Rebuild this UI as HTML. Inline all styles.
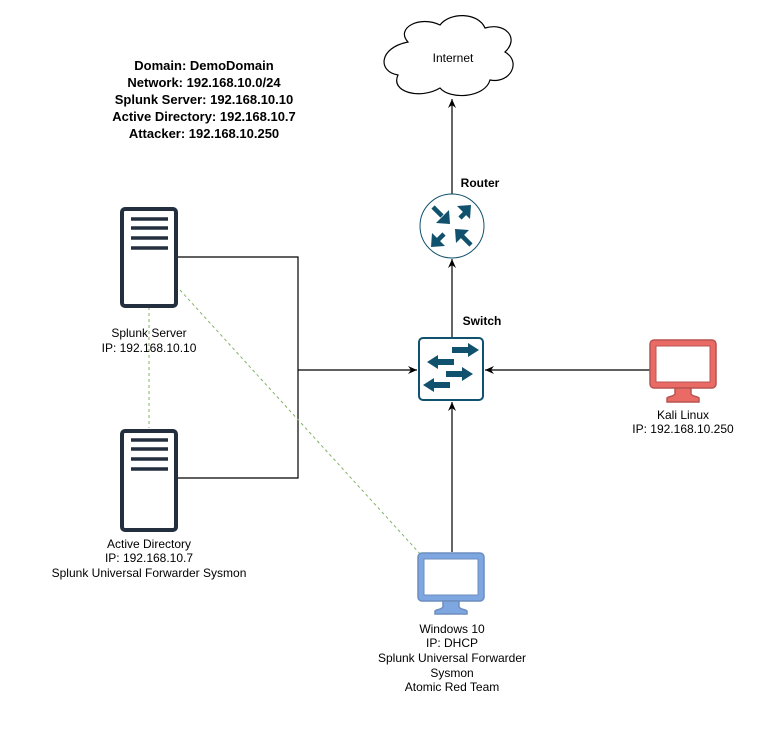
<!DOCTYPE html>
<html><head><meta charset="utf-8"><style>
html,body{margin:0;padding:0;background:#fff;}
svg{display:block;font-family:"Liberation Sans",Arial,sans-serif;}
</style></head><body>
<svg width="779" height="742" viewBox="0 0 779 742" xmlns="http://www.w3.org/2000/svg">
<defs>
<marker id="ar" markerWidth="10" markerHeight="10" refX="9" refY="5" orient="auto" markerUnits="userSpaceOnUse">
<path d="M0,1 L9,5 L0,9 L3,5 Z" fill="#000"/>
</marker>
</defs>
<g font-size="13" font-weight="bold" text-anchor="middle" fill="#000">
<text x="204" y="70">Domain: DemoDomain</text>
<text x="204" y="87">Network: 192.168.10.0/24</text>
<text x="204" y="104">Splunk Server: 192.168.10.10</text>
<text x="204" y="121">Active Directory: 192.168.10.7</text>
<text x="204" y="138">Attacker: 192.168.10.250</text>
</g>
<path d="M408,42 C395,28 420,15 440,25 C450,12 478,12 485,28 C505,22 520,38 505,52 C522,62 510,84 490,80 C485,98 450,100 440,88 C420,100 390,92 398,75 C378,72 378,48 408,42 Z" fill="#fff" stroke="#000" stroke-width="1.2"/>
<text x="453" y="62" font-size="12" text-anchor="middle">Internet</text>
<g stroke="#000" stroke-width="1.2" fill="none">
<line x1="452" y1="194" x2="452" y2="99" marker-end="url(#ar)"/>
<line x1="452" y1="337" x2="452" y2="259" marker-end="url(#ar)"/>
<line x1="650" y1="370" x2="485" y2="370" marker-end="url(#ar)"/>
<line x1="452" y1="552" x2="452" y2="402" marker-end="url(#ar)"/>
<polyline points="178,257 298,257 298,478 178,478"/>
<line x1="298" y1="370" x2="417" y2="370" marker-end="url(#ar)"/>
</g>
<g stroke="#82b366" stroke-width="1" stroke-dasharray="3,3" fill="none">
<line x1="149" y1="307" x2="149" y2="428"/>
<line x1="180" y1="290" x2="422" y2="556"/>
</g>
<g>
<rect x="122" y="209" width="54" height="97" rx="3" fill="#fff" stroke="#232f3e" stroke-width="4"/>
<g stroke="#232f3e" stroke-width="3.5"><line x1="131" y1="219" x2="168" y2="219"/><line x1="131" y1="228" x2="168" y2="228"/><line x1="131" y1="238" x2="168" y2="238"/><line x1="131" y1="248" x2="168" y2="248"/></g>
<rect x="122" y="431" width="54" height="99" rx="3" fill="#fff" stroke="#232f3e" stroke-width="4"/>
<g stroke="#232f3e" stroke-width="3.5"><line x1="131" y1="440" x2="168" y2="440"/><line x1="131" y1="449" x2="168" y2="449"/><line x1="131" y1="459" x2="168" y2="459"/><line x1="131" y1="469" x2="168" y2="469"/></g>
</g>
<g font-size="12" text-anchor="middle" fill="#000">
<text x="149" y="337">Splunk Server</text>
<text x="149" y="352">IP: 192.168.10.10</text>
<text x="149" y="548">Active Directory</text>
<text x="149" y="562">IP: 192.168.10.7</text>
<text x="149" y="577">Splunk Universal Forwarder Sysmon</text>
</g>
<circle cx="452" cy="226" r="32" fill="#fff" stroke="#10516d" stroke-width="1"/>
<g fill="#10516d" stroke="#10516d" stroke-width="4.5">
<line x1="433" y1="207" x2="442" y2="216"/><path d="M450,224 L436,223 L449,210 Z" stroke="none"/>
<line x1="460" y1="218" x2="469" y2="209"/><path d="M471,205 L470,219 L457,206 Z" stroke="none"/>
<line x1="444" y1="234" x2="435" y2="243"/><path d="M431,247 L432,233 L445,246 Z" stroke="none"/>
<line x1="471" y1="245" x2="462" y2="236"/><path d="M455,229 L469,230 L456,243 Z" stroke="none"/>
</g>
<text x="480" y="187" font-size="12" font-weight="bold" text-anchor="middle">Router</text>
<rect x="419" y="338" width="64" height="62" rx="4" fill="#fff" stroke="#10516d" stroke-width="2"/>
<g fill="#10516d">
<rect x="452" y="347" width="18" height="6"/><path d="M468,343 L479,350 L468,357 Z"/>
<rect x="436" y="359" width="18" height="6"/><path d="M438,355 L427,362 L438,369 Z"/>
<rect x="446" y="371" width="18" height="6"/><path d="M462,367 L473,374 L462,381 Z"/>
<rect x="432" y="382" width="18" height="6"/><path d="M434,378 L423,385 L434,392 Z"/>
</g>
<text x="482" y="325" font-size="12" font-weight="bold" text-anchor="middle">Switch</text>
<g fill="#ea6b66" stroke="#b85450" stroke-width="1.5">
<rect x="650" y="340" width="66" height="48" rx="4"/>
<path d="M675,388 L691,388 L691,394 C693,397 697,396 699,398 L699,402 L667,402 L667,398 C669,396 673,397 675,394 Z"/>
</g>
<rect x="656" y="346" width="54" height="36" fill="#fff" stroke="#b85450" stroke-width="1"/>
<text x="683" y="419" font-size="12" text-anchor="middle">Kali Linux</text>
<text x="683" y="433" font-size="12" text-anchor="middle">IP: 192.168.10.250</text>
<g fill="#7ea6e0" stroke="#6c8ebf" stroke-width="1.5">
<rect x="418" y="553" width="66" height="48" rx="4"/>
<path d="M443,601 L459,601 L459,607 C461,610 465,609 467,611 L467,614 L435,614 L435,611 C437,609 441,610 443,607 Z"/>
</g>
<rect x="424" y="559" width="54" height="36" fill="#fff" stroke="#6c8ebf" stroke-width="1"/>
<g font-size="12" text-anchor="middle" fill="#000">
<text x="452" y="633">Windows 10</text>
<text x="452" y="647">IP: DHCP</text>
<text x="452" y="662">Splunk Universal Forwarder</text>
<text x="452" y="677">Sysmon</text>
<text x="452" y="691">Atomic Red Team</text>
</g>
</svg>
</body></html>
